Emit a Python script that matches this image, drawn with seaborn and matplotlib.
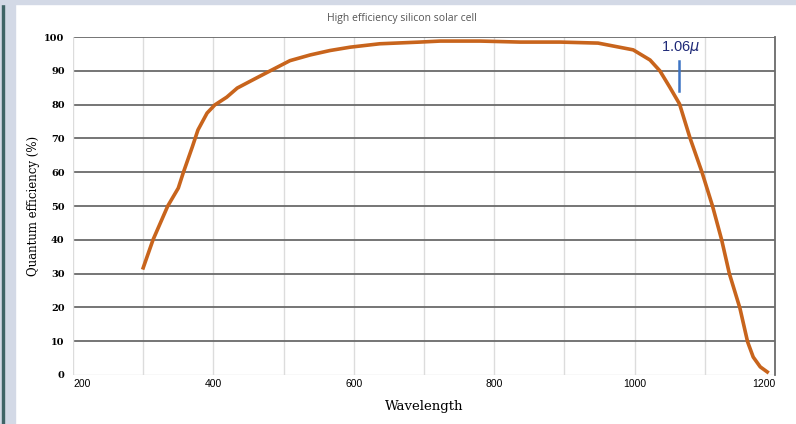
import pandas as pd
import seaborn as sns
import matplotlib.pyplot as plt
from matplotlib.patches import Rectangle

# Quantum efficiency curve
wavelength = [300, 314, 335, 350, 357, 370, 378, 391, 402, 419, 434, 456, 481, 509,
              538, 566, 595, 637, 694, 723, 780, 837, 894, 948, 998, 1022, 1036,
              1050, 1064, 1079, 1096, 1111, 1124, 1135, 1150, 1161, 1169, 1179, 1189]
efficiency = [31.7, 40, 50, 55.3, 59.8, 67.5, 72.5, 77.5, 79.9, 82.2, 84.9, 87.3, 90, 93,
              94.7, 96, 97, 98, 98.5, 98.8, 98.8, 98.5, 98.5, 98.2, 96.2, 93.2, 90,
              85.2, 80.2, 70.1, 60, 50, 40, 30, 19.8, 9.8, 5.3, 2.4, 0.9]
x_ticks = [200, 400, 600, 800, 1000, 1200]
y_ticks = [0, 10, 20, 30, 40, 50, 60, 70, 80, 90, 100]
marker_x = 1063
marker_y = [84, 93]

df = pd.DataFrame({'Wavelength': wavelength, 'QE': efficiency})

fig = plt.figure(figsize=(7.96, 4.24), dpi=100)
# window frame bits at the left / top edge
fig.patches.append(Rectangle((0, 0), 0.019, 1, transform=fig.transFigure,
                             color='#d3d9e6', zorder=0))
fig.patches.append(Rectangle((0.002, 0), 0.003, 1, transform=fig.transFigure,
                             color='#3f6466', zorder=0))
fig.patches.append(Rectangle((0, 0.99), 1, 0.01, transform=fig.transFigure,
                             color='#d3d9e6', zorder=0))

ax = fig.add_axes([0.0917, 0.1156, 0.8819, 0.7971])

# grid
for x in range(300, 1200, 100):
    ax.axvline(x, color='#dcdcdc', lw=1, zorder=0)
for y in y_ticks[1:]:
    ax.axhline(y, color='#6a6a6a', lw=1.3, zorder=0)

sns.lineplot(data=df, x='Wavelength', y='QE', color='#c8641c', lw=2.6, ax=ax, zorder=3)

ax.plot([marker_x, marker_x], marker_y, color='#3d74c4', lw=1.8, zorder=4)
ax.text(marker_x + 3, 94.5, '1.06$\\mu$', color='#1f2a78', fontsize=10.5,
        ha='center', va='bottom', family='Liberation Sans')

ax.set_xlim(200, 1200)
ax.set_ylim(0, 100)
ax.set_xticks(x_ticks)
ax.set_yticks(y_ticks)
ax.set_xticklabels([str(v) for v in x_ticks], fontsize=7.5, family='Liberation Sans')
ax.set_yticklabels([str(v) for v in y_ticks], fontsize=7, family='DejaVu Serif',
                   fontweight='bold')
ax.get_xticklabels()[0].set_ha('left')
ax.get_xticklabels()[-1].set_ha('right')
ax.tick_params(length=0, pad=3)
ax.tick_params(axis='y', pad=6)

for s in ['top', 'bottom', 'left']:
    ax.spines[s].set_visible(False)
ax.spines['right'].set_color('#6a6a6a')
ax.spines['right'].set_linewidth(1.3)
ax.axhline(0, color='#dcdcdc', lw=1, zorder=1)
ax.axvline(200, color='#dcdcdc', lw=1, zorder=1)

ax.set_xlabel('Wavelength', family='DejaVu Serif', fontsize=9.5, labelpad=8)
ax.set_ylabel('Quantum efficiency (%)', family='DejaVu Serif', fontsize=8.5, labelpad=3)
fig.text(0.505, 0.957, 'High efficiency silicon solar cell', ha='center', va='center',
         fontsize=7.5, color='#555555', family='Open Sans')

fig.savefig('out.png', dpi=100)
